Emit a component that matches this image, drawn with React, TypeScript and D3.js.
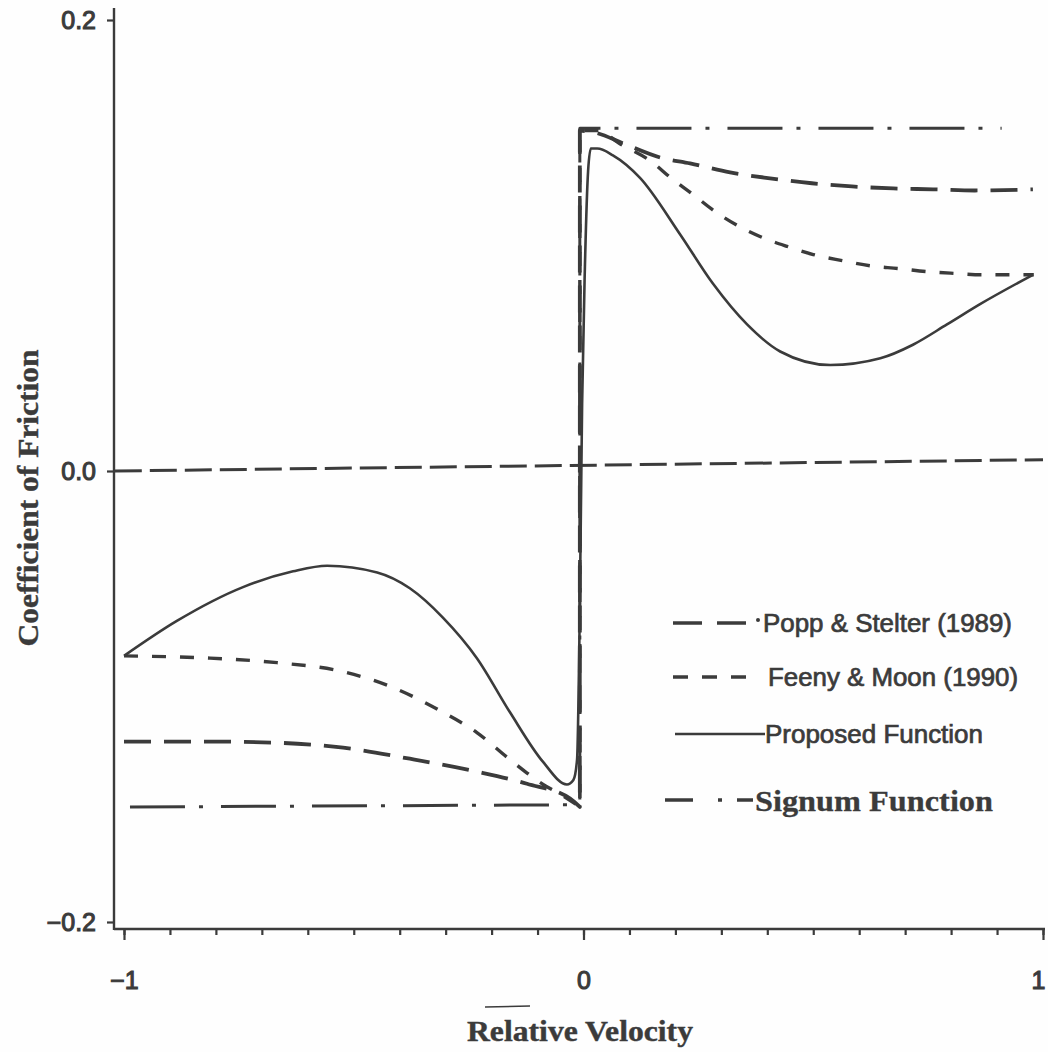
import React, {useEffect, useRef} from 'react';
import * as d3 from 'd3';

const width = 1048;
const height = 1052;
const ink = "#3b3b3b";

// Proposed function (solid)
const proposedV = [-1.0, -0.885, -0.741, -0.632, -0.558, -0.449, -0.378, -0.306, -0.232, -0.160, -0.088, -0.036, -0.022, -0.014, -0.008, -0.003, 0.003, 0.010, 0.016, 0.030, 0.064, 0.123, 0.210, 0.282, 0.356, 0.428, 0.537, 0.646, 0.717, 0.791, 0.863, 0.978];
const proposedMu = [-0.082, -0.0665, -0.0515, -0.0445, -0.042, -0.045, -0.052, -0.065, -0.083, -0.107, -0.129, -0.139, -0.137, -0.128, -0.060, 0.030, 0.090, 0.133, 0.143, 0.143, 0.140, 0.130, 0.105, 0.083, 0.065, 0.053, 0.047, 0.050, 0.056, 0.065, 0.074, 0.087];

// Popp & Stelter (1989), long dashes
const poppLeftV = [-1.0, -0.813, -0.667, -0.523, -0.378, -0.232, -0.123, -0.029, -0.008];
const poppLeftMu = [-0.120, -0.120, -0.1205, -0.1227, -0.1276, -0.1333, -0.1387, -0.1453, -0.149];
const poppRightV = [-0.008, 0.030, 0.086, 0.167, 0.232, 0.319, 0.406, 0.497, 0.584, 0.674, 0.761, 0.852, 0.978];
const poppRightMu = [0.151, 0.1498, 0.1453, 0.139, 0.1364, 0.1324, 0.1298, 0.1276, 0.1262, 0.1253, 0.1249, 0.1244, 0.1249];

// Feeny & Moon (1990), short dashes
const feenyLeftV = [-1.0, -0.813, -0.667, -0.523, -0.415, -0.306, -0.232, -0.160, -0.088, -0.045, -0.008];
const feenyLeftMu = [-0.082, -0.083, -0.085, -0.089, -0.096, -0.107, -0.116, -0.128, -0.139, -0.144, -0.149];
const feenyRightV = [-0.008, 0.030, 0.080, 0.149, 0.190, 0.236, 0.280, 0.334, 0.384, 0.443, 0.500, 0.563, 0.624, 0.685, 0.748, 0.810, 0.869, 0.980];
const feenyRightMu = [0.151, 0.151, 0.145, 0.137, 0.130, 0.123, 0.116, 0.109, 0.104, 0.0996, 0.096, 0.0933, 0.091, 0.0898, 0.0884, 0.0876, 0.087, 0.087];

// Signum function (dash-dot)
const signumV = [-0.987, -0.008, -0.008, 0.910];
const signumMu = [-0.149, -0.148, 0.152, 0.152];

// zero reference line
const zeroV = [-1.02, 1.0];
const zeroMu = [0.0, 0.005];

const xTicks = d3.range(-10, 11).map(i => i / 10);
const xLabels = [-1, 0, 1];
const yTicks = [-0.2, 0.0, 0.2];

const legendItems = [
    {label: "Popp & Stelter (1989)", dash: "29 15", serif: false},
    {label: "Feeny & Moon (1990)", dash: "15 14", serif: false},
    {label: "Proposed Function", dash: null, serif: false},
    {label: "Signum Function", dash: "28 25 4 15 30", serif: true}
];

const zip = (vs: number[], ms: number[]) => vs.map((v, i) => [v, ms[i]] as [number, number]);

function App() {
    const ref = useRef<SVGSVGElement>(null);

    useEffect(() => {
        const svg = d3.select(ref.current);
        svg.selectAll("*").remove();

        const x = d3.scaleLinear().domain([-1, 1]).range([124, 1043]);
        const y = d3.scaleLinear().domain([-0.2, 0.2]).range([922, 20]);

        svg.append("rect").attr("width", width).attr("height", height).attr("fill", "#fefefe");

        // axes lines
        svg.append("line").attr("x1", 114).attr("x2", 114).attr("y1", 8).attr("y2", 930)
            .attr("stroke", ink).attr("stroke-width", 2.4);
        svg.append("line").attr("x1", 114).attr("x2", 1045).attr("y1", 929).attr("y2", 929)
            .attr("stroke", ink).attr("stroke-width", 2.4);

        const xMinor = svg.append("g").attr("transform", "translate(0,929)")
            .call(d3.axisBottom(x).tickValues(xTicks).tickSize(6).tickFormat(() => ""));
        const xMajor = svg.append("g").attr("transform", "translate(0,929)")
            .call(d3.axisBottom(x).tickValues(xLabels).tickSize(11).tickPadding(31)
                .tickFormat(d => d3.format("d")(d as number)));
        const yAxis = svg.append("g").attr("transform", "translate(114,0)")
            .call(d3.axisLeft(y).tickValues(yTicks).tickSize(7).tickPadding(11)
                .tickFormat(d => d3.format(".1f")(d as number)));
        [xMinor, xMajor, yAxis].forEach(g => {
            g.select(".domain").remove();
            g.selectAll("line").attr("stroke", ink).attr("stroke-width", 2.2);
            g.selectAll("text").attr("fill", ink).attr("font-family", "'Liberation Sans', Arial, sans-serif")
                .attr("font-size", 25).attr("stroke", ink).attr("stroke-width", 1.1);
        });
        // keep the "1" label inside the page
        xMajor.selectAll("text").filter(d => d === 1).attr("dx", -5);

        const smooth = d3.line<[number, number]>()
            .x(d => x(d[0])).y(d => y(d[1]))
            .curve(d3.curveMonotoneX);
        const straight = d3.line<[number, number]>()
            .x(d => x(d[0])).y(d => y(d[1]));
        const joined = (a: [number, number][], b: [number, number][]) =>
            (smooth(a) || "") + (smooth(b) || "").replace(/^M/, "L");

        const plot = svg.append("g").attr("fill", "none").attr("stroke", ink)
            .attr("stroke-linejoin", "round");

        plot.append("path").attr("d", straight(zip(zeroV, zeroMu)))
            .attr("stroke-width", 3).attr("stroke-dasharray", "27 8");
        plot.append("path").attr("d", straight(zip(signumV, signumMu)))
            .attr("stroke-width", 3).attr("stroke-dasharray", "55 14 4 18");
        plot.append("path").attr("d", joined(zip(poppLeftV, poppLeftMu), zip(poppRightV, poppRightMu)))
            .attr("stroke-width", 3.8).attr("stroke-dasharray", "27 13");
        plot.append("path").attr("d", joined(zip(feenyLeftV, feenyLeftMu), zip(feenyRightV, feenyRightMu)))
            .attr("stroke-width", 3.4).attr("stroke-dasharray", "14 14");
        plot.append("path").attr("d", smooth(zip(proposedV, proposedMu)))
            .attr("stroke-width", 2.6);

        // legend
        const rowsY = [623, 677, 734, 800];
        const lineX = [[673, 748], [673, 747], [675, 765], [665, 753]];
        const textX = [763, 768, 765, 755];
        const textW = [249, 250, 218, 238];
        const legend = svg.append("g");
        legendItems.forEach((item, i) => {
            const l = legend.append("line")
                .attr("x1", lineX[i][0]).attr("x2", lineX[i][1])
                .attr("y1", rowsY[i]).attr("y2", rowsY[i])
                .attr("stroke", ink).attr("stroke-width", i === 2 ? 2.6 : 3.4);
            if (item.dash) l.attr("stroke-dasharray", item.dash);
            legend.append("text")
                .attr("x", textX[i]).attr("y", rowsY[i])
                .attr("dy", "0.36em")
                .attr("fill", ink)
                .attr("font-family", item.serif ? "'Liberation Serif', 'Times New Roman', serif" : "'Liberation Sans', Arial, sans-serif")
                .attr("font-weight", item.serif ? "bold" : "normal")
                .attr("font-size", item.serif ? 30 : 25)
                .attr("stroke", ink).attr("stroke-width", item.serif ? 0.3 : 0.7)
                .attr("textLength", textW[i]).attr("lengthAdjust", "spacingAndGlyphs")
                .text(item.label);
        });
        legend.append("circle").attr("cx", 758).attr("cy", 620).attr("r", 2).attr("fill", ink);

        // axis titles
        svg.append("line").attr("x1", 485).attr("x2", 530).attr("y1", 1007).attr("y2", 1006)
            .attr("stroke", ink).attr("stroke-width", 1.6);
        svg.append("text")
            .attr("x", 580).attr("y", 1041)
            .attr("text-anchor", "middle")
            .attr("font-family", "'Liberation Serif', 'Times New Roman', serif")
            .attr("font-weight", "bold").attr("font-size", 29)
            .attr("fill", ink).attr("stroke", ink).attr("stroke-width", 0.4)
            .attr("textLength", 226).attr("lengthAdjust", "spacingAndGlyphs")
            .text("Relative Velocity");
        svg.append("text")
            .attr("transform", "translate(38,498) rotate(-90)")
            .attr("text-anchor", "middle")
            .attr("font-family", "'Liberation Serif', 'Times New Roman', serif")
            .attr("font-weight", "bold").attr("font-size", 29)
            .attr("fill", ink).attr("stroke", ink).attr("stroke-width", 0.4)
            .attr("textLength", 297).attr("lengthAdjust", "spacingAndGlyphs")
            .text("Coefficient of Friction");
    }, []);

    return (
        <svg ref={ref} width={width} height={height}
             style={{position: "absolute", left: 0, top: 0, display: "block"}}/>
    );
}

export default App;
